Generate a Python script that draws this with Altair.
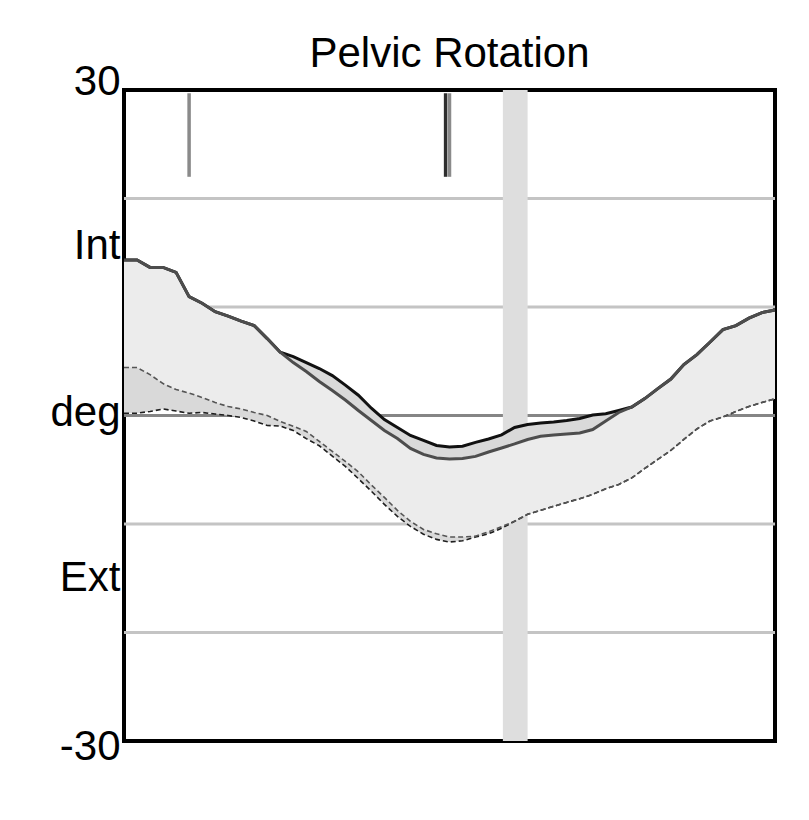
import altair as alt
import pandas as pd

# gait cycle (%)
pct = [0, 2, 4, 6, 8, 10, 12, 14, 16, 18, 20, 22, 24, 26, 28, 30, 32, 34, 36, 38, 40,
       42, 44, 46, 48, 50, 52, 54, 56, 58, 60, 62, 64, 66, 68, 70, 72, 74, 76, 78, 80,
       82, 84, 86, 88, 90, 92, 94, 96, 98, 100]

upper_a = [14.33, 14.33, 13.65, 13.65, 13.19, 10.95, 10.35, 9.57, 9.16, 8.70, 8.28,
           7.09, 5.83, 4.88, 4.05, 3.13, 2.30, 1.43, 0.46, -0.46, -1.38,
           -2.12, -3.04, -3.59, -3.91, -4.00, -3.96, -3.77, -3.36, -2.99, -2.62,
           -2.21, -1.92, -1.79, -1.70, -1.61, -1.29, -0.51, 0.28, 0.78, 1.56,
           2.48, 3.36, 4.69, 5.61, 6.75, 7.91, 8.28, 8.97, 9.48, 9.73]

upper_b = [14.33, 14.33, 13.65, 13.65, 13.19, 10.95, 10.35, 9.57, 9.16, 8.70, 8.28,
           7.09, 5.83, 5.43, 4.88, 4.33, 3.68, 2.80, 1.87, 0.67, -0.38,
           -1.10, -1.84, -2.30, -2.76, -2.90, -2.83, -2.48, -2.16, -1.79, -1.10,
           -0.83, -0.69, -0.60, -0.46, -0.28, 0.05, 0.16, 0.46, 0.78, 1.56,
           2.48, 3.36, 4.69, 5.61, 6.75, 7.91, 8.28, 8.97, 9.48, 9.73]

lower_a = [4.42, 4.42, 3.77, 2.94, 2.39, 2.07, 1.66, 1.20, 0.83, 0.60, 0.28,
           0.00, -0.55, -0.99, -1.47, -2.39, -3.31, -4.23, -5.20, -6.40, -7.55,
           -8.75, -9.75, -10.50, -10.90, -11.20, -11.20, -11.12, -10.71, -10.25, -9.75,
           -9.11, -8.74, -8.37, -8.01, -7.67, -7.27, -6.75, -6.35, -5.75, -4.88,
           -4.05, -3.22, -2.21, -1.24, -0.51, -0.14, 0.37, 0.83, 1.20, 1.54]

lower_b = [0.21, 0.21, 0.37, 0.60, 0.41, 0.21, 0.28, 0.14, 0.00, -0.18, -0.51,
           -0.92, -0.98, -1.38, -2.13, -2.79, -3.75, -4.69, -5.82, -6.98, -8.19,
           -9.30, -10.22, -10.94, -11.42, -11.66, -11.55, -11.20, -10.90, -10.40, -9.75,
           -9.11, -8.74, -8.37, -8.01, -7.67, -7.27, -6.75, -6.35, -5.75, -4.88,
           -4.05, -3.22, -2.21, -1.24, -0.51, -0.14, 0.37, 0.83, 1.20, 1.54]

band_start = [58.2]
band_end = [62.0]

marker_pct = [10.0, 49.4, 50.0]
marker_top = [29.7, 29.7, 29.7]
marker_bottom = [22.0, 22.0, 22.0]
marker_color = ["#8a8a8a", "#2e2e2e", "#8a8a8a"]

grid_values = [20, 10, -10, -20]
zero_value = [0]

ytick_values = [30, 15, 0, -15, -30]
ytick_labels = ["30", "Int", "deg", "Ext", "-30"]
ytick_offsets = [-9, -7, -3, -1, 5]

FONT = "Liberation Sans"

df = pd.DataFrame({"pct": pct, "ua": upper_a, "ub": upper_b, "la": lower_a, "lb": lower_b})
band_df = pd.DataFrame({"s": band_start, "e": band_end})
marker_df = pd.DataFrame({"pct": marker_pct, "top": marker_top, "bottom": marker_bottom,
                          "c": marker_color})
grid_df = pd.DataFrame({"v": grid_values})
zero_df = pd.DataFrame({"v": zero_value})

label_expr = " : ".join(
    f"datum.value == {v} ? '{t}'" for v, t in zip(ytick_values[:-1], ytick_labels[:-1])
) + f" : '{ytick_labels[-1]}'"

offset_cond = {
    "condition": [{"test": f"datum.value == {v}", "value": o}
                  for v, o in zip(ytick_values[:-1], ytick_offsets[:-1])],
    "value": ytick_offsets[-1],
}

yscale = alt.Scale(domain=[-30, 30], nice=False, zero=False)
xscale = alt.Scale(domain=[0, 100], nice=False, zero=False)
yaxis = alt.Axis(values=ytick_values, labelExpr=label_expr, domain=False, ticks=False,
                 grid=False, title=None, labelFontSize=42, labelFont=FONT,
                 labelColor="black", labelPadding=4, labelBaseline="middle",
                 labelOffset=offset_cond, labelFlush=False, labelOverlap=False)

X = lambda f: alt.X(f, scale=xscale, axis=None)
Y = lambda f: alt.Y(f, scale=yscale, axis=yaxis)

grid = alt.Chart(grid_df).mark_rule(color="#c4c4c4", strokeWidth=3).encode(y=Y("v:Q"))
zero = alt.Chart(zero_df).mark_rule(color="#858585", strokeWidth=3).encode(y=Y("v:Q"))
band = alt.Chart(band_df).mark_rect(color="#dedede").encode(x=X("s:Q"), x2="e:Q")

area_b = alt.Chart(df).mark_area(color="#d9d9d9", opacity=1).encode(
    x=X("pct:Q"), y=Y("ub:Q"), y2="lb:Q")
area_a = alt.Chart(df).mark_area(color="#ececec", opacity=1).encode(
    x=X("pct:Q"), y=Y("ua:Q"), y2="la:Q")

line_lb = alt.Chart(df).mark_line(color="#1e1e1e", strokeWidth=1.6, strokeDash=[5, 3]).encode(
    x=X("pct:Q"), y=Y("lb:Q"))
line_la = alt.Chart(df).mark_line(color="#555555", strokeWidth=1.6, strokeDash=[5, 3]).encode(
    x=X("pct:Q"), y=Y("la:Q"))
line_ub = alt.Chart(df).mark_line(color="#111111", strokeWidth=3).encode(
    x=X("pct:Q"), y=Y("ub:Q"))
line_ua = alt.Chart(df).mark_line(color="#4d4d4d", strokeWidth=3).encode(
    x=X("pct:Q"), y=Y("ua:Q"))

markers = alt.Chart(marker_df).mark_rule(strokeWidth=3.5).encode(
    x=X("pct:Q"), y=Y("top:Q"), y2="bottom:Q", color=alt.Color("c:N", scale=None))

chart = alt.layer(
    grid, zero, band, area_b, area_a, line_lb, line_la, line_ub, line_ua, markers
).properties(
    width=651,
    height=651,
    padding={"left": 116, "top": 82, "right": 26, "bottom": 71},
    autosize=alt.AutoSizeParams(type="none"),
    background="white",
    title=alt.TitleParams("Pelvic Rotation", fontSize=42, font=FONT, fontWeight="normal",
                          color="black", anchor="middle", offset=-16),
).configure_view(
    stroke="black", strokeWidth=4
)

chart.save("out.html", embed_options={"renderer": "svg", "actions": False})
